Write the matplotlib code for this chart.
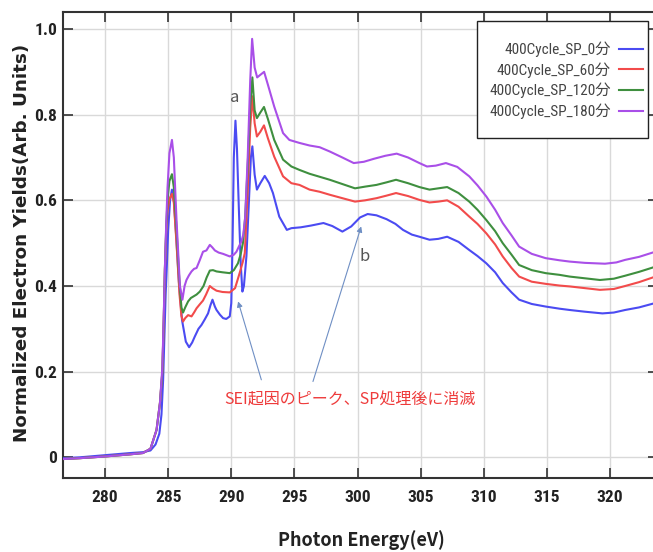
import matplotlib
matplotlib.use("Agg")
import matplotlib.pyplot as plt
from matplotlib import font_manager as fm
from matplotlib.patches import Rectangle

# ---------------- data ----------------
labels = ["400Cycle_SP_0分", "400Cycle_SP_60分", "400Cycle_SP_120分", "400Cycle_SP_180分"]

e_0 = [276.7, 278, 280, 282, 283, 283.6, 284.0, 284.3, 284.47, 284.6, 284.7, 284.8, 284.9, 285.0,
       285.15, 285.3, 285.45, 285.65, 285.85, 286.1, 286.4, 286.66, 286.9, 287.11, 287.4, 287.64,
       287.9, 288.16, 288.35, 288.51, 288.7, 288.83, 289.1, 289.35, 289.6, 289.88, 290.0, 290.1,
       290.2, 290.33, 290.45, 290.6, 290.75, 290.88, 291.0, 291.2, 291.4, 291.55, 291.67, 291.85,
       292.03, 292.3, 292.65, 293.0, 293.3, 293.8, 294.4, 294.76, 295.5, 296.3, 297.3, 298.0, 298.8,
       299.5, 300.2, 300.8, 301.5, 302.3, 303.0, 303.6, 304.3, 304.9, 305.7, 306.4, 307.1, 308.0,
       308.85, 309.5, 310.2, 310.9, 311.5, 312.2, 312.8, 313.8, 314.9, 316.0, 316.8, 318.0, 319.4,
       320.3, 321.2, 322.3, 323.8]
y_0 = [-0.002, 0.0, 0.005, 0.01, 0.012, 0.016, 0.03, 0.055, 0.10, 0.18, 0.28, 0.38, 0.45, 0.53,
       0.60, 0.625, 0.60, 0.51, 0.41, 0.32, 0.27, 0.257, 0.268, 0.282, 0.30, 0.309,
       0.322, 0.336, 0.355, 0.368, 0.352, 0.344, 0.333, 0.325, 0.323, 0.329, 0.36, 0.50,
       0.70, 0.786, 0.72, 0.58, 0.45, 0.387, 0.40, 0.47, 0.60, 0.70, 0.726, 0.66,
       0.625, 0.640, 0.657, 0.640, 0.617, 0.562, 0.531, 0.535, 0.537, 0.541, 0.547, 0.540, 0.527,
       0.539, 0.560, 0.568, 0.565, 0.556, 0.545, 0.531, 0.520, 0.515, 0.508, 0.510, 0.515, 0.503,
       0.484, 0.470, 0.453, 0.432, 0.407, 0.385, 0.368, 0.358, 0.352, 0.347, 0.344, 0.340, 0.336,
       0.338, 0.344, 0.350, 0.362]

e_60 = [276.7, 278, 280, 282, 283, 283.6, 284.08, 284.35, 284.54, 284.65, 284.74, 284.85, 284.95,
        285.1, 285.3, 285.45, 285.66, 285.9, 286.05, 286.18, 286.35, 286.58, 286.85, 287.05, 287.25,
        287.5, 287.76, 288.0, 288.3, 288.5, 288.83, 289.3, 289.88, 290.3, 290.66, 290.9, 291.07,
        291.3, 291.5, 291.67, 291.85, 292.03, 292.3, 292.59, 292.9, 293.4, 294.1, 294.76, 295.4,
        296.2, 297.0, 297.8, 298.8, 299.8, 300.6, 301.5, 302.3, 303.05, 304.0, 304.9, 305.7, 306.4,
        307.1, 308.0, 308.85, 309.5, 310.2, 310.9, 311.5, 312.2, 312.8, 313.8, 314.9, 316.0, 316.8,
        318.0, 319.2, 320.3, 321.2, 322.3, 323.8]
y_60 = [-0.004, -0.002, 0.002, 0.007, 0.01, 0.02, 0.064, 0.127, 0.20, 0.32, 0.437, 0.53, 0.575,
        0.603, 0.615, 0.595, 0.50, 0.38, 0.33, 0.317, 0.325, 0.332, 0.329, 0.338, 0.348,
        0.357, 0.366, 0.38, 0.40, 0.395, 0.389, 0.386, 0.385, 0.395, 0.430, 0.455, 0.477,
        0.62, 0.77, 0.843, 0.78, 0.749, 0.760, 0.775, 0.745, 0.702, 0.656, 0.640, 0.636,
        0.625, 0.620, 0.613, 0.605, 0.597, 0.600, 0.605, 0.611, 0.617, 0.610, 0.601, 0.595, 0.597,
        0.600, 0.585, 0.562, 0.545, 0.523, 0.497, 0.469, 0.442, 0.422, 0.410, 0.405, 0.401, 0.399,
        0.395, 0.391, 0.393, 0.400, 0.409, 0.424]

e_120 = [276.7, 278, 280, 282, 283, 283.6, 284.08, 284.35, 284.54, 284.65, 284.74, 284.85, 284.95,
         285.1, 285.3, 285.45, 285.65, 285.85, 286.05, 286.18, 286.35, 286.58, 286.8, 286.97, 287.25,
         287.51, 287.8, 288.05, 288.3, 288.55, 288.83, 289.3, 289.88, 290.2, 290.53, 290.75, 290.92,
         291.1, 291.3, 291.5, 291.67, 291.85, 292.03, 292.3, 292.59, 292.9, 293.4, 294.1, 294.76,
         295.4, 296.2, 297.0, 297.8, 298.8, 299.8, 300.6, 301.5, 302.3, 303.05, 304.0, 304.9, 305.7,
         306.4, 307.1, 308.0, 308.85, 309.5, 310.2, 310.9, 311.5, 312.2, 312.8, 313.8, 314.9, 316.0,
         316.8, 318.0, 319.2, 320.3, 321.2, 322.3, 323.8]
y_120 = [-0.004, -0.002, 0.002, 0.007, 0.01, 0.02, 0.064, 0.127, 0.20, 0.32, 0.44, 0.54, 0.60,
         0.645, 0.661, 0.63, 0.54, 0.43, 0.35, 0.338, 0.350, 0.364, 0.372, 0.375, 0.38,
         0.387, 0.40, 0.42, 0.436, 0.437, 0.434, 0.432, 0.430, 0.437, 0.453, 0.475, 0.500,
         0.56, 0.68, 0.82, 0.887, 0.81, 0.792, 0.805, 0.818, 0.790, 0.741, 0.695, 0.679,
         0.671, 0.662, 0.655, 0.648, 0.638, 0.628, 0.632, 0.636, 0.642, 0.648, 0.640, 0.631, 0.625,
         0.628, 0.631, 0.617, 0.597, 0.578, 0.554, 0.528, 0.500, 0.473, 0.449, 0.437, 0.430, 0.426,
         0.422, 0.418, 0.414, 0.417, 0.424, 0.433, 0.447]

e_180 = [276.7, 278, 280, 282, 283, 283.6, 284.08, 284.35, 284.54, 284.65, 284.74, 284.85, 284.95,
         285.1, 285.3, 285.45, 285.66, 285.93, 286.13, 286.3, 286.45, 286.65, 286.85, 287.05, 287.25,
         287.5, 287.76, 288.03, 288.3, 288.5, 288.7, 289.0, 289.35, 289.88, 290.2, 290.41, 290.6,
         290.8, 290.95, 291.1, 291.3, 291.5, 291.65, 291.85, 292.05, 292.3, 292.6, 292.9, 293.4,
         294.1, 294.6, 295.4, 296.2, 297.0, 297.8, 298.8, 299.7, 300.5, 301.3, 302.2, 303.1, 304.0,
         304.9, 305.5, 306.2, 307.0, 307.9, 308.85, 309.5, 310.2, 310.9, 311.5, 312.2, 312.8, 313.8,
         314.9, 316.0, 316.8, 318.0, 319.6, 320.5, 321.2, 322.3, 323.8]
y_180 = [-0.004, -0.002, 0.002, 0.007, 0.01, 0.02, 0.064, 0.127, 0.21, 0.33, 0.44, 0.55, 0.63,
         0.71, 0.741, 0.70, 0.555, 0.40, 0.368, 0.400, 0.414, 0.425, 0.434, 0.440, 0.442,
         0.460, 0.480, 0.483, 0.496, 0.490, 0.483, 0.478, 0.475, 0.469, 0.473, 0.480, 0.492,
         0.504, 0.52, 0.56, 0.70, 0.88, 0.977, 0.91, 0.887, 0.893, 0.900, 0.870, 0.819,
         0.757, 0.741, 0.734, 0.728, 0.724, 0.714, 0.700, 0.687, 0.690, 0.697, 0.704, 0.709, 0.700,
         0.687, 0.679, 0.681, 0.687, 0.678, 0.656, 0.635, 0.609, 0.578, 0.547, 0.518, 0.492, 0.475,
         0.465, 0.460, 0.457, 0.454, 0.452, 0.455, 0.461, 0.468, 0.482]

x_ticks = [280, 285, 290, 295, 300, 305, 310, 315, 320]
y_ticks = [0, 0.2, 0.4, 0.6, 0.8, 1.0]
y_tick_labels = ["0", "0.2", "0.4", "0.6", "0.8", "1.0"]

note_text = "SEI起因のピーク、SP処理後に消滅"

# ---------------- fonts ----------------
_names = {f.name for f in fm.fontManager.ttflist}
_cond = next((n for n in ["Roboto Condensed", "Liberation Sans Narrow", "PT Sans Narrow",
                          "Archivo Narrow", "Fira Sans Condensed", "Open Sans Condensed"]
              if n in _names), None)
cjk = ["Noto Sans CJK JP", "DejaVu Sans"]
if _cond:
    narrow = [_cond, "DejaVu Sans"]
    narrow_cjk = [_cond, "Noto Sans CJK JP", "DejaVu Sans"]
    leg_size = 11
else:
    narrow = ["Liberation Sans", "DejaVu Sans"]
    narrow_cjk = ["Noto Sans CJK JP", "DejaVu Sans"]
    leg_size = 9.5

# ---------------- styling ----------------
colors = ["#4b4bf2", "#f24b4b", "#3f8f3f", "#a94fe8"]

fig = plt.figure(figsize=(6.53, 5.52), dpi=100)
W, H = 653, 552
ax_l, ax_r, ax_t, ax_b = 63, 658, 12, 478
aw, ah = ax_r - ax_l, ax_b - ax_t
ax = fig.add_axes([ax_l / W, 1 - ax_b / H, aw / W, ah / H])


def fx(px):  # figure pixel -> axes fraction (x)
    return (px - ax_l) / aw


def fy(py):  # figure pixel -> axes fraction (y)
    return (ax_b - py) / ah


series = [(e_0, y_0), (e_60, y_60), (e_120, y_120), (e_180, y_180)]
for (e, y), c, lab in zip(series, colors, labels):
    assert len(e) == len(y), (lab, len(e), len(y))
    ax.plot(e, y, color=c, lw=1.5, label=lab, solid_joinstyle="round", zorder=3)

ax.set_xlim(276.67, 323.8)
ax.set_ylim(-0.0483, 1.0397)
tick_fp = fm.FontProperties(family=narrow, weight="bold", size=12.5)
ax.set_xticks(x_ticks)
ax.set_xticklabels([str(v) for v in x_ticks], fontproperties=tick_fp, color="#222222")
ax.set_yticks(y_ticks)
ax.set_yticklabels(y_tick_labels, fontproperties=tick_fp, color="#222222")
ax.grid(True, color="#d9d9d9", lw=1.0, zorder=0)
ax.set_axisbelow(True)

for s in ax.spines.values():
    s.set_color("#333333")
    s.set_linewidth(1.5)
ax.tick_params(axis="both", direction="in", length=7, width=1.2, color="#333333",
               top=True, right=True)
ax.tick_params(axis="x", pad=9)
ax.tick_params(axis="y", pad=4)

ax.set_ylabel("Normalized Electron Yields(Arb. Units)", fontsize=13.2, fontweight="bold",
              family=["DejaVu Sans"], color="#222222")
ax.yaxis.set_label_coords(-(ax_l - 31) / aw, fy(243))
ax.set_xlabel("Photon Energy(eV)", fontsize=13, fontweight="bold", family=cjk, color="#222222")
ax.xaxis.set_label_coords(fx(361), fy(540))
ax.xaxis.label.set_va("center")

# legend: frameless entries + separate box matching the reference frame
leg = ax.legend(loc="upper right", bbox_to_anchor=(fx(643), fy(41.5)),
                borderaxespad=0, borderpad=0, markerfirst=False, frameon=False,
                prop={"family": narrow_cjk, "size": leg_size},
                handlelength=1.6, handletextpad=0.5, labelspacing=0.33)
for t in leg.get_texts():
    t.set_color("#444444")
ax.add_patch(Rectangle((fx(476.7), fy(138.3)), fx(648.3) - fx(476.7), fy(20.7) - fy(138.3),
                       transform=ax.transAxes, facecolor="white", edgecolor="#222222",
                       lw=1.0, zorder=4))
leg.set_zorder(5)

# annotations
ax.text(290.28, 0.84, "a", fontsize=12, color="#555555", ha="center", va="center",
        family=cjk, zorder=5)
ax.text(300.55, 0.468, "b", fontsize=12, color="#555555", ha="center", va="center",
        family=cjk, zorder=5)
ax.text(299.4, 0.134, note_text, fontsize=11.5, color="#ee3b3b", ha="center", va="center",
        family=cjk, zorder=5)
arrow_kw = dict(arrowstyle="-|>", color="#6f8fc4", lw=0.8, mutation_scale=8, shrinkA=0, shrinkB=0)
ax.annotate("", xy=(290.54, 0.364), xytext=(292.38, 0.181), arrowprops=arrow_kw, zorder=5)
ax.annotate("", xy=(300.29, 0.539), xytext=(296.47, 0.177), arrowprops=arrow_kw, zorder=5)

fig.savefig("out.png", dpi=100)
